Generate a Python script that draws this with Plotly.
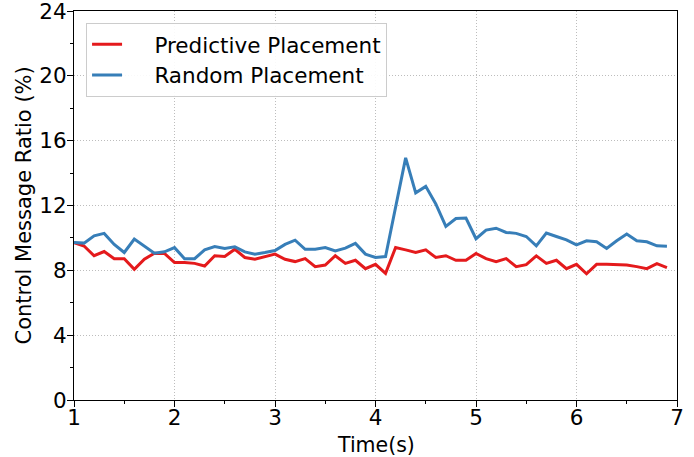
import plotly.graph_objects as go

# Time stamps (s), sampled every 0.1 s
time_s = [round(1.0 + 0.1 * i, 1) for i in range(60)]

predictive = [
    9.70, 9.50, 8.90, 9.16, 8.72, 8.72, 8.06, 8.68, 9.06, 9.04,
    8.48, 8.48, 8.43, 8.27, 8.90, 8.85, 9.30, 8.79, 8.68, 8.83,
    9.00, 8.68, 8.54, 8.72, 8.23, 8.33, 8.90, 8.43, 8.62, 8.10,
    8.37, 7.81, 9.41, 9.26, 9.10, 9.26, 8.79, 8.90, 8.62, 8.62,
    9.04, 8.72, 8.54, 8.72, 8.23, 8.35, 8.89, 8.43, 8.62, 8.10,
    8.37, 7.79, 8.37, 8.37, 8.33, 8.33, 8.23, 8.10, 8.41, 8.17,
]

random_pl = [
    9.72, 9.68, 10.13, 10.28, 9.60, 9.10, 9.93, 9.47, 9.06, 9.14,
    9.40, 8.72, 8.72, 9.26, 9.47, 9.35, 9.45, 9.14, 9.00, 9.10,
    9.22, 9.60, 9.86, 9.30, 9.30, 9.40, 9.20, 9.37, 9.66, 9.00,
    8.79, 8.85, 11.80, 14.94, 12.78, 13.18, 12.10, 10.71, 11.20, 11.23,
    9.95, 10.48, 10.60, 10.34, 10.28, 10.09, 9.51, 10.30, 10.09, 9.88,
    9.57, 9.82, 9.76, 9.35, 9.82, 10.24, 9.82, 9.76, 9.51, 9.49,
]

y_ticks = [0, 4, 8, 12, 16, 20, 24]
x_ticks = [1, 2, 3, 4, 5, 6, 7]

FONT = "DejaVu Sans"
PAD = "\u00a0\u00a0\u00a0\u00a0"  # extra gap between legend sample line and label

fig = go.Figure()
fig.add_trace(go.Scatter(x=time_s, y=predictive, mode="lines",
                         name=PAD + "Predictive Placement",
                         line=dict(color="#e41a1c", width=3)))
fig.add_trace(go.Scatter(x=time_s, y=random_pl, mode="lines",
                         name=PAD + "Random Placement",
                         line=dict(color="#377eb8", width=3)))

axis_common = dict(
    showline=True, linecolor="black", linewidth=1.2, mirror=True,
    ticks="outside", ticklen=6, tickwidth=1.2, tickcolor="black",
    showgrid=True, gridcolor="#bdbdbd", griddash="1px,2px", gridwidth=1,
    zeroline=False, automargin=False, ticklabeloverflow="allow",
    tickfont=dict(family=FONT, size=21.5, color="black"),
)

fig.update_layout(
    width=694, height=457,
    margin=dict(l=74, r=17, t=11, b=57),
    paper_bgcolor="white", plot_bgcolor="white",
    font=dict(family=FONT, size=21, color="black"),
    xaxis=dict(
        range=[1, 7], tickvals=x_ticks, ticklabelstandoff=-8,
        minor=dict(dtick=0.5, tick0=1, ticks="outside", ticklen=3,
                   tickcolor="black", showgrid=False),
        **axis_common,
    ),
    yaxis=dict(
        range=[0, 24], tickvals=y_ticks, ticklabelstandoff=-4,
        minor=dict(dtick=2, tick0=0, ticks="outside", ticklen=3,
                   tickcolor="black", showgrid=False),
        **axis_common,
    ),
    legend=dict(
        x=0.02, y=0.97, xanchor="left", yanchor="top",
        bgcolor="rgba(255,255,255,0.9)", bordercolor="#cccccc", borderwidth=1,
        font=dict(family=FONT, size=21.5),
        tracegroupgap=0,
    ),
    showlegend=True,
)

# Axis titles
fig.add_annotation(text="Time(s)", xref="paper", yref="paper", x=0.5, y=0,
                   yanchor="top", yshift=-31, showarrow=False,
                   font=dict(family=FONT, size=20.5, color="black"))
fig.add_annotation(text="Control Message Ratio (%)", xref="paper", yref="paper",
                   x=0, y=0.5, xanchor="center", xshift=-51, textangle=-90,
                   showarrow=False, font=dict(family=FONT, size=21, color="black"))

fig.write_html("out.html")
